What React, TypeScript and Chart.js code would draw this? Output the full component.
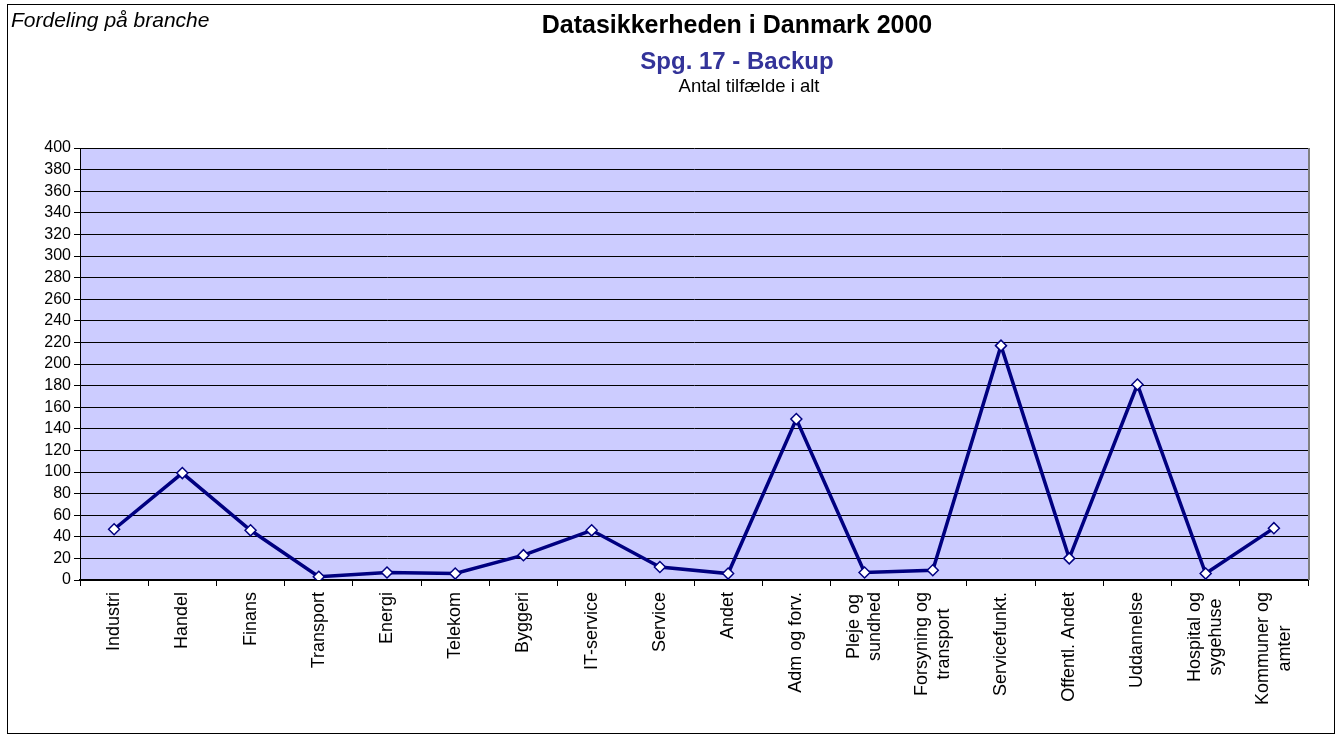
import React, { useEffect, useRef } from "react";
import { Chart, registerables } from "chart.js";

Chart.register(...registerables);

const categories: (string | string[])[] = [
  "Industri",
  "Handel",
  "Finans",
  "Transport",
  "Energi",
  "Telekom",
  "Byggeri",
  "IT-service",
  "Service",
  "Andet",
  "Adm og forv.",
  ["Pleje og", "sundhed"],
  ["Forsyning og", "transport"],
  "Servicefunkt.",
  "Offentl. Andet",
  "Uddannelse",
  ["Hospital og", "sygehuse"],
  ["Kommuner og", "amter"],
];

const backupValues: number[] = [47, 99, 46, 3, 7, 6, 23, 46, 12, 6, 149, 7, 9, 217, 20, 181, 6, 48];

const yMin = 0;
const yMax = 400;
const yStep = 20;

const mainTitle = "Datasikkerheden i Danmark 2000";
const subTitle = "Spg. 17 - Backup";
const subTitle2 = "Antal tilfælde i alt";
const cornerText = "Fordeling på branche";

const FONT = "'Liberation Sans', Arial, sans-serif";

const decorPlugin = {
  id: "decor",
  beforeDraw(chart: any) {
    const { ctx, chartArea } = chart;
    ctx.save();
    ctx.fillStyle = "#ffffff";
    ctx.fillRect(0, 0, chart.width, chart.height);
    ctx.fillStyle = "#CCCCFF";
    ctx.fillRect(chartArea.left, chartArea.top, chartArea.right - chartArea.left, chartArea.bottom - chartArea.top);
    ctx.restore();

    // center the rotated (multi-line) category labels on their ticks
    const xScale = chart.scales.x;
    const items = xScale.getLabelItems(chartArea);
    if (!xScale._centeredDone) {
      ctx.save();
      items.forEach((item: any) => {
        const lines = Array.isArray(item.label) ? item.label : [item.label];
        ctx.font = item.font.string;
        let maxW = 0;
        lines.forEach((l: string) => {
          maxW = Math.max(maxW, ctx.measureText(l).width);
        });
        const lh = item.font.lineHeight;
        item.options.textAlign = "center";
        item.options.translation = [
          item.options.translation[0] - ((lines.length - 1) * lh) / 2,
          item.options.translation[1] + maxW / 2,
        ];
      });
      ctx.restore();
      xScale._centeredDone = true;
    }
  },
  afterDraw(chart: any) {
    const { ctx, chartArea } = chart;
    ctx.save();
    ctx.strokeStyle = "#808080";
    ctx.lineWidth = 2;
    ctx.beginPath();
    ctx.moveTo(chartArea.right + 1, chartArea.top);
    ctx.lineTo(chartArea.right + 1, chartArea.bottom);
    ctx.stroke();
    ctx.strokeStyle = "#000000";
    ctx.lineWidth = 1;
    ctx.strokeRect(7.5, 4.5, 1327, 729);
    ctx.fillStyle = "#000000";
    ctx.textAlign = "center";
    ctx.textBaseline = "alphabetic";
    ctx.font = `bold 25px ${FONT}`;
    ctx.fillText(mainTitle, 737, 33);
    ctx.fillStyle = "#333399";
    ctx.font = `bold 24px ${FONT}`;
    ctx.fillText(subTitle, 737, 69);
    ctx.fillStyle = "#000000";
    ctx.font = `18.5px ${FONT}`;
    ctx.fillText(subTitle2, 749, 92);
    ctx.textAlign = "left";
    ctx.font = `italic 21px ${FONT}`;
    ctx.fillText(cornerText, 11, 27);
    ctx.restore();
  },
};

export default function App() {
  const canvasRef = useRef<HTMLCanvasElement | null>(null);

  useEffect(() => {
    document.body.style.margin = "0";
    const canvas = canvasRef.current;
    if (!canvas) return;
    const chart = new Chart(canvas, {
      type: "line",
      data: {
        labels: categories,
        datasets: [
          {
            data: backupValues,
            borderColor: "#000080",
            borderWidth: 3.5,
            tension: 0,
            pointStyle: "rectRot",
            pointRadius: 5.5,
            pointBackgroundColor: "#ffffff",
            pointBorderColor: "#000080",
            pointBorderWidth: 1.5,
          },
        ],
      },
      options: {
        responsive: false,
        animation: false,
        layout: { padding: { top: 148, right: 31, left: 0, bottom: 0 } },
        plugins: {
          legend: { display: false },
          tooltip: { enabled: false },
          title: { display: false },
        },
        scales: {
          x: {
            type: "category",
            offset: true,
            grid: {
              offset: true,
              drawOnChartArea: false,
              drawTicks: true,
              tickLength: 6,
              color: "#000000",
            },
            border: { display: true, color: "#000000", width: 2 },
            ticks: {
              autoSkip: false,
              minRotation: 90,
              maxRotation: 90,
              color: "#000000",
              padding: 6,
              font: { family: FONT, size: 18 },
            },
            afterFit(scale: any) {
              scale.height = 155;
            },
          },
          y: {
            min: yMin,
            max: yMax,
            ticks: {
              stepSize: yStep,
              autoSkip: false,
              color: "#000000",
              padding: 3,
              font: { family: FONT, size: 16 },
            },
            grid: {
              color: "#000000",
              lineWidth: 1,
              tickLength: 6,
            },
            border: { display: true, color: "#000000", width: 1 },
            afterFit(scale: any) {
              scale.width = 80;
            },
          },
        },
      },
      plugins: [decorPlugin],
    });
    return () => chart.destroy();
  }, []);

  return (
    <div style={{ position: "relative", width: 1339, height: 735 }}>
      <canvas ref={canvasRef} width={1339} height={735} style={{ display: "block" }} />
    </div>
  );
}
